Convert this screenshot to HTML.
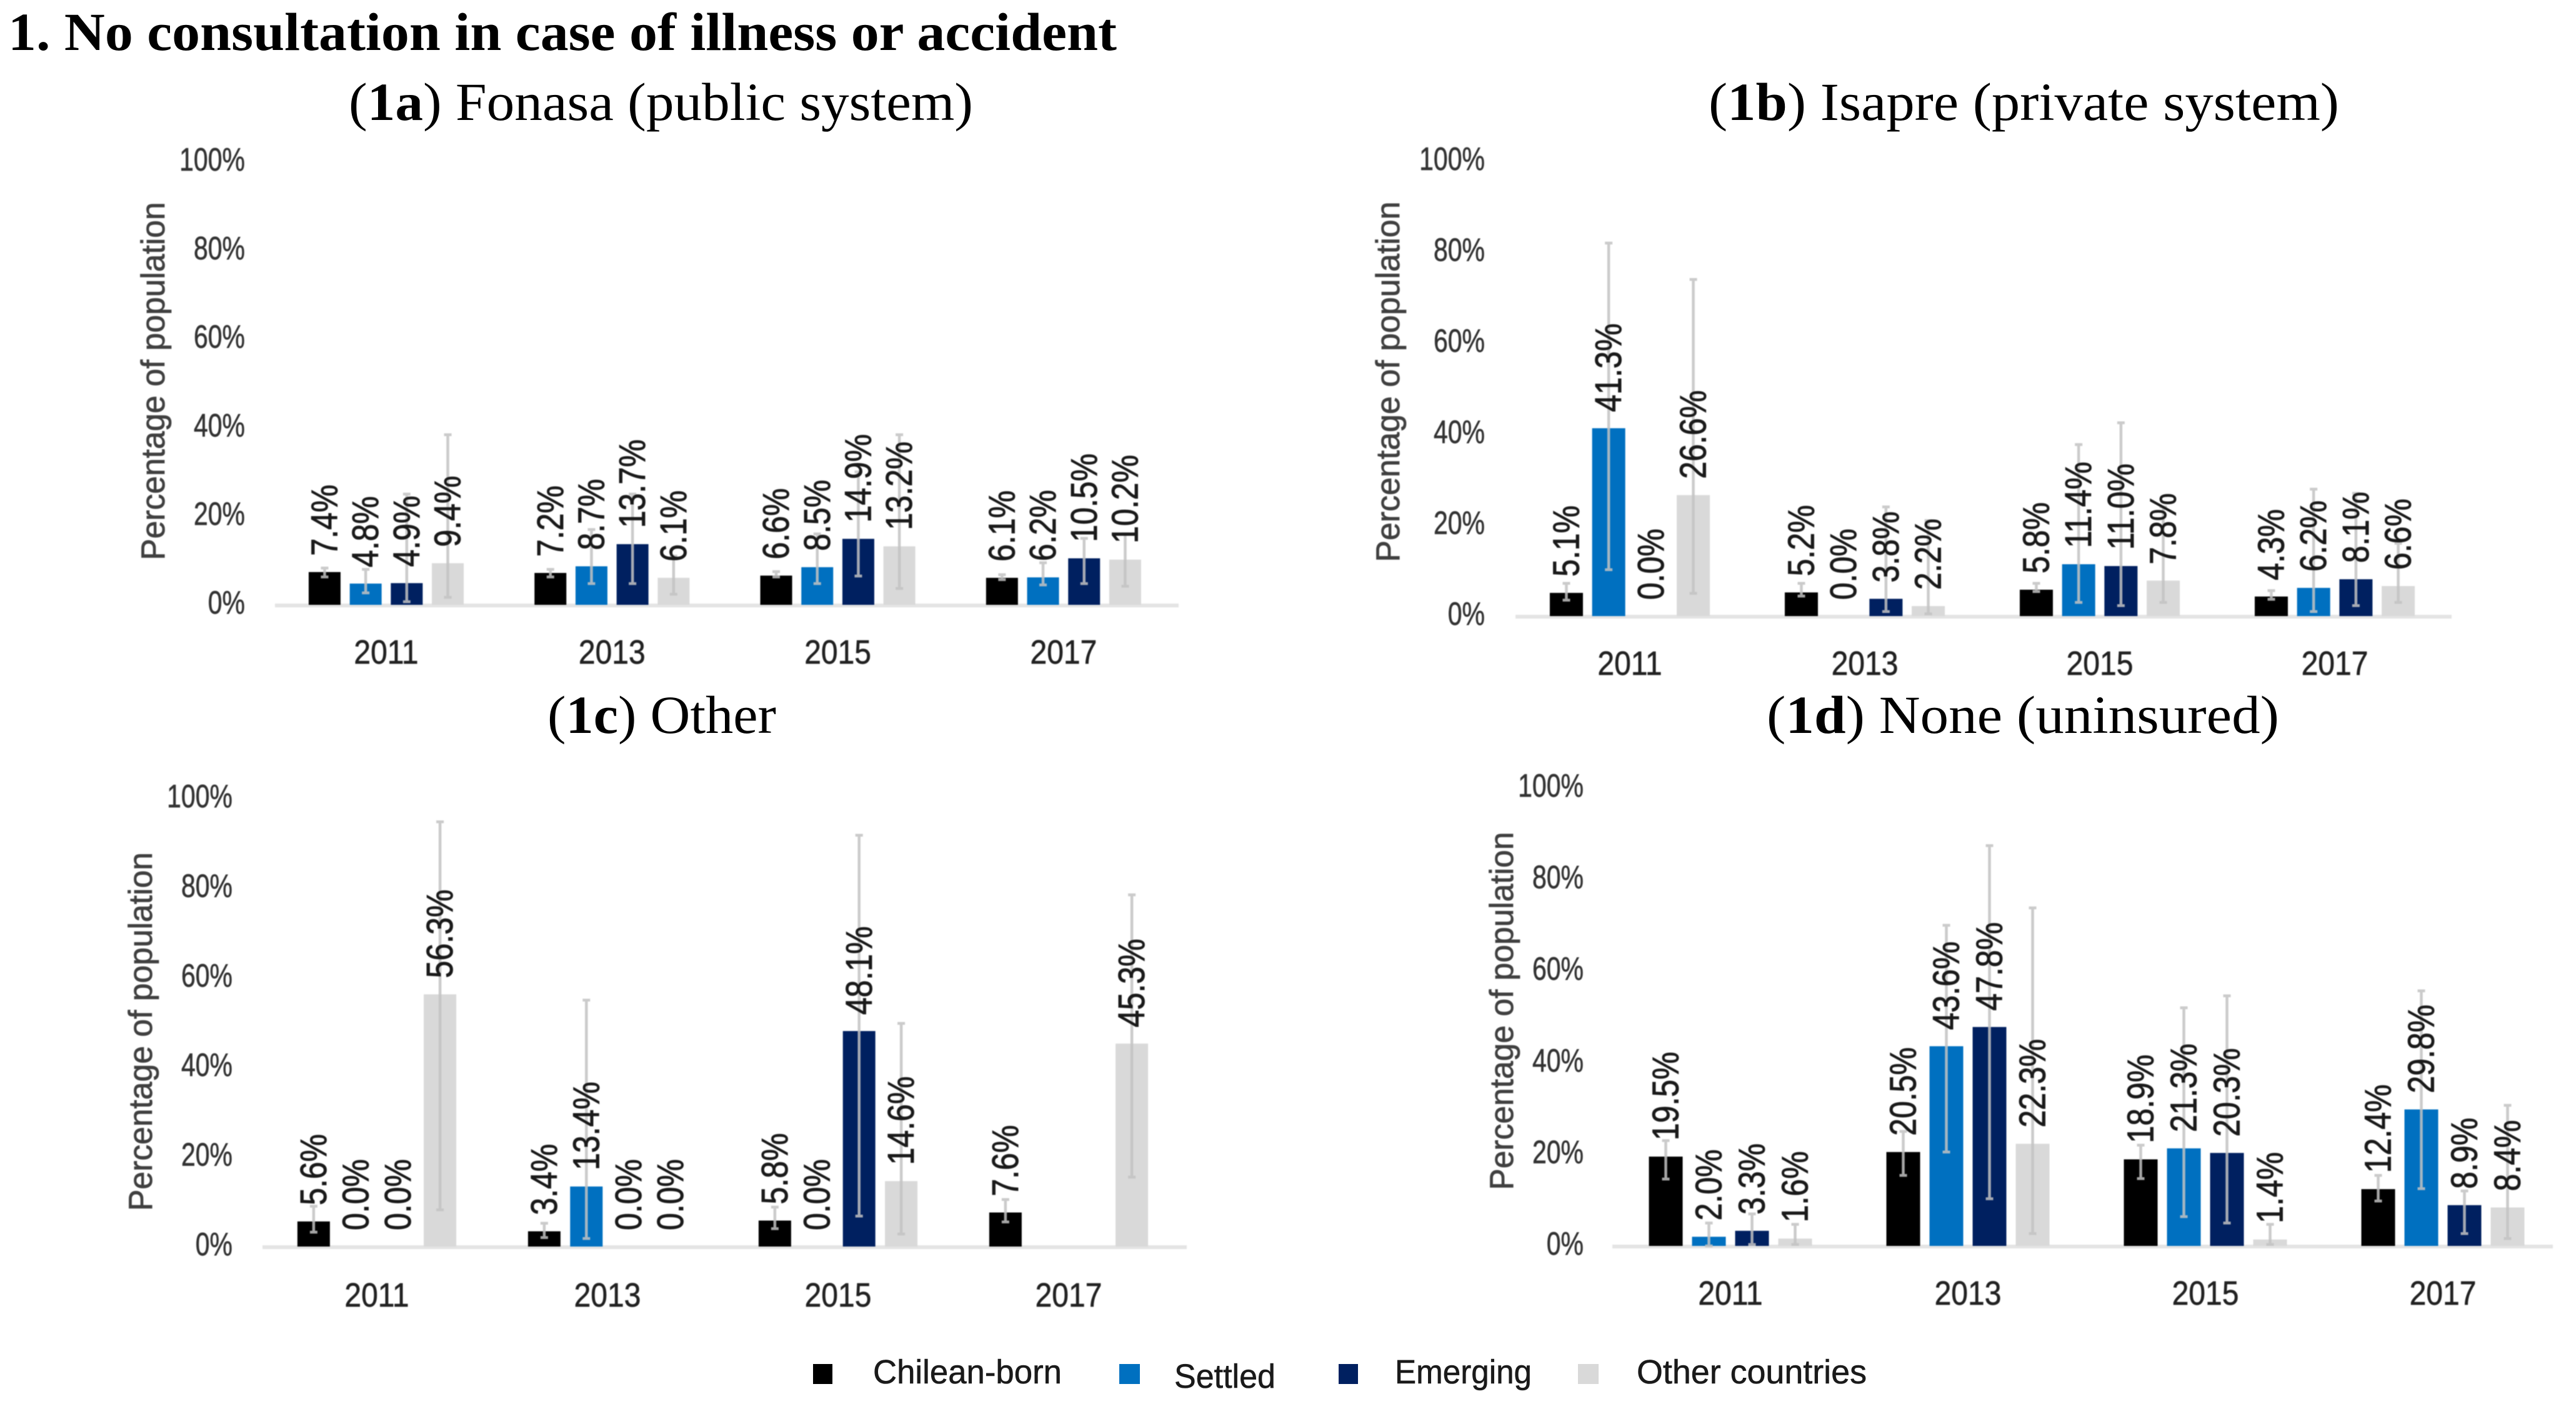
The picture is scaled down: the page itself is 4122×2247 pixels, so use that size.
<!DOCTYPE html>
<html lang="en">
<head>
<meta charset="utf-8">
<title>No consultation in case of illness or accident</title>
<style>
html,body{margin:0;padding:0;background:#fff;width:4122px;height:2247px;overflow:hidden}
svg{display:block}
.serif{font-family:"Liberation Serif",serif;fill:#000}
.sans{font-family:"Liberation Sans",sans-serif}
#charts{filter:blur(0.8px)}
</style>
</head>
<body>
<svg id="figure" xmlns="http://www.w3.org/2000/svg" width="4122" height="2247" viewBox="0 0 4122 2247">
  <rect x="0" y="0" width="4122" height="2247" fill="#ffffff"/>
  <text class="serif" x="13" y="80" font-size="86" font-weight="700" textLength="1774" lengthAdjust="spacingAndGlyphs">1. No consultation in case of illness or accident</text>
  <text class="serif" x="558" y="192" font-size="86" textLength="999" lengthAdjust="spacingAndGlyphs">(<tspan font-weight="700">1a</tspan>) Fonasa (public system)</text>
  <text class="serif" x="2734" y="192" font-size="86" textLength="1009" lengthAdjust="spacingAndGlyphs">(<tspan font-weight="700">1b</tspan>) Isapre (private system)</text>
  <text class="serif" x="876" y="1173" font-size="86" textLength="366" lengthAdjust="spacingAndGlyphs">(<tspan font-weight="700">1c</tspan>) Other</text>
  <text class="serif" x="2827" y="1173" font-size="86" textLength="820" lengthAdjust="spacingAndGlyphs">(<tspan font-weight="700">1d</tspan>) None (uninsured)</text>
  <g id="charts"></g>
  <g>
    <rect x="1301" y="2183" width="31" height="32" fill="#000000"/>
    <text class="sans" x="1397" y="2214" font-size="54" fill="#1a1a1a" stroke="#1a1a1a" stroke-width="0.6" textLength="302" lengthAdjust="spacingAndGlyphs">Chilean-born</text>
    <rect x="1791" y="2183" width="33" height="32" fill="#0070c0"/>
    <text class="sans" x="1879" y="2221" font-size="54" fill="#1a1a1a" stroke="#1a1a1a" stroke-width="0.6" textLength="162" lengthAdjust="spacingAndGlyphs">Settled</text>
    <rect x="2142" y="2183" width="31" height="32" fill="#002060"/>
    <text class="sans" x="2232" y="2214" font-size="54" fill="#1a1a1a" stroke="#1a1a1a" stroke-width="0.6" textLength="219" lengthAdjust="spacingAndGlyphs">Emerging</text>
    <rect x="2525" y="2183" width="33" height="32" fill="#d9d9d9"/>
    <text class="sans" x="2619" y="2214" font-size="54" fill="#1a1a1a" stroke="#1a1a1a" stroke-width="0.6" textLength="368" lengthAdjust="spacingAndGlyphs">Other countries</text>
  </g>
</svg>
<script>
const years = ['2011', '2013', '2015', '2017'];
const yTicks = [0, 20, 40, 60, 80, 100];
const seriesKeys = ['chilean-born', 'settled', 'emerging', 'other-countries'];

const fonasaChilean = [7.4, 7.2, 6.6, 6.1];
const fonasaSettled = [4.8, 8.7, 8.5, 6.2];
const fonasaEmerging = [4.9, 13.7, 14.9, 10.5];
const fonasaOther = [9.4, 6.1, 13.2, 10.2];
const fonasaChileanLow = [6.3, 6.3, 6.3, 5.7];
const fonasaSettledLow = [2.7, 4.8, 4.8, 4.5];
const fonasaEmergingLow = [0.7, 4.8, 6.5, 4.8];
const fonasaOtherLow = [1.7, 2.4, 3.7, 4.2];
const fonasaChileanHigh = [8.3, 8.0, 7.5, 6.8];
const fonasaSettledHigh = [8.0, 17, 16, 9.5];
const fonasaEmergingHigh = [25, 25, 30, 15];
const fonasaOtherHigh = [38.4, 11, 38.4, 16];

const isapreChilean = [5.1, 5.2, 5.8, 4.3];
const isapreSettled = [41.3, 0, 11.4, 6.2];
const isapreEmerging = [0, 3.8, 11.0, 8.1];
const isapreOther = [26.6, 2.2, 7.8, 6.6];
const isapreChileanLow = [3.5, 4.4, 5.4, 3.7];
const isapreSettledLow = [10.2, null, 3, 1];
const isapreEmergingLow = [null, 1, 2.3, 2.3];
const isapreOtherLow = [5, 0.5, 3, 3];
const isapreChileanHigh = [7.2, 7.2, 7.2, 5.6];
const isapreSettledHigh = [82, null, 37.7, 27.9];
const isapreEmergingHigh = [null, 24, 42.5, 27];
const isapreOtherHigh = [74, 21, 24, 16];

const otherChilean = [5.6, 3.4, 5.8, 7.6];
const otherSettled = [0, 13.4, 0, null];
const otherEmerging = [0, 0, 48.1, null];
const otherOther = [56.3, 0, 14.6, 45.3];
const otherChileanLow = [3.2, 2, 4, 5.5];
const otherSettledLow = [null, 1.8, null, null];
const otherEmergingLow = [null, null, 6.8, null];
const otherOtherLow = [8.2, null, 2.8, 15.5];
const otherChileanHigh = [9, 5.2, 8.8, 10.5];
const otherSettledHigh = [null, 55, null, null];
const otherEmergingHigh = [null, null, 91.8, null];
const otherOtherHigh = [94.8, null, 49.8, 78.5];

const noneChilean = [19.5, 20.5, 18.9, 12.4];
const noneSettled = [2.0, 43.6, 21.3, 29.8];
const noneEmerging = [3.3, 47.8, 20.3, 8.9];
const noneOther = [1.6, 22.3, 1.4, 8.4];
const noneChileanLow = [14.6, 15.4, 14.7, 9.8];
const noneSettledLow = [0, 20.5, 6.4, 12.5];
const noneEmergingLow = [0.3, 10.3, 5, 2.7];
const noneOtherLow = [0.3, 2.7, 0.3, 1.6];
const noneChileanHigh = [23, 25, 22, 15.4];
const noneSettledHigh = [5, 70, 52, 55.7];
const noneEmergingHigh = [7, 87.4, 54.6, 12];
const noneOtherHigh = [4.7, 73.8, 4.7, 30.7];

const SVG_NS = 'http://www.w3.org/2000/svg';
const seriesFill = { 'chilean-born': '#000000', 'settled': '#0070c0', 'emerging': '#002060', 'other-countries': '#d9d9d9' };
const root = document.getElementById('charts');

function make(parent, tag, attrs, content) {
  const el = document.createElementNS(SVG_NS, tag);
  for (const k in attrs) el.setAttribute(k, attrs[k]);
  if (content !== undefined) el.textContent = content;
  parent.appendChild(el);
  return el;
}

function drawPanel(key, values, lows, highs, L) {
  const yScale = v => L.y0 - (L.y0 - L.y100) * v / 100;
  const xGroup = i => L.cx0 + i * L.groupStep;
  const xBar = (i, s) => xGroup(i) + (s - 1.5) * L.barStep;

  const g = make(root, 'g', {});
  
  

  const title = make(g, 'text', {
    'class': 'sans', 'font-size': 53, 'fill': '#404040', 'stroke': '#404040', 'stroke-width': 0.8,
    'textLength': L.titleLen, 'lengthAdjust': 'spacingAndGlyphs',
    'text-anchor': 'middle', 'transform': 'translate(' + L.titleX + ',' + L.titleY + ') rotate(-90)'
  }, 'Percentage of population');
  
  

  yTicks.forEach(t => {
    const tick = make(g, 'text', {
      'class': 'sans', 'font-size': 41, 'fill': '#333333', 'stroke': '#333333', 'stroke-width': 0.5,
      'text-anchor': 'end', 'transform': 'translate(' + L.tickX + ',' + (yScale(t) + 14) + ') scale(1,1.27)'
    }, t + '%');
    
    
  });

  const axis = make(g, 'line', {
    'x1': L.axisX1, 'x2': L.axisX2, 'y1': L.y0 + 1, 'y2': L.y0 + 1, 'stroke': '#e4e4e4', 'stroke-width': 6
  });
  
  

  years.forEach((year, i) => {
    const cat = make(g, 'text', {
      'class': 'sans', 'font-size': 48, 'fill': '#222222', 'stroke': '#222222', 'stroke-width': 0.6, 'text-anchor': 'middle',
      'transform': 'translate(' + xGroup(i) + ',' + L.catY + ') scale(1,1.12)'
    }, year);
    
    

    seriesKeys.forEach((sKey, s) => {
      const v = values[s][i];
      if (v === null) return;
      const bx = xBar(i, s);
      const top = yScale(v);

      const bar = make(g, 'rect', {
        'x': bx - L.barW / 2, 'y': top, 'width': L.barW, 'height': L.y0 - top, 'fill': seriesFill[sKey]
      });
      
      

      const lo = lows[s][i];
      const hi = highs[s][i];
      if (lo !== null && hi !== null) {
        const err = make(g, 'path', {
          'd': 'M' + bx + ' ' + yScale(hi) + 'V' + yScale(lo) +
               'M' + (bx - 6) + ' ' + yScale(hi) + 'H' + (bx + 6) +
               'M' + (bx - 6) + ' ' + yScale(lo) + 'H' + (bx + 6),
          'fill': 'none', 'stroke': '#c2c2c2', 'stroke-width': 4.5, 'stroke-opacity': 0.85
        });
        
        
      }
    });
  });

  years.forEach((year, i) => {
    seriesKeys.forEach((sKey, s) => {
      const v = values[s][i];
      if (v === null) return;
      const label = make(g, 'text', {
        'class': 'sans', 'font-size': 50, 'fill': '#1a1a1a', 'stroke': '#1a1a1a', 'stroke-width': 0.8, 'x': 0, 'y': 17,
        'transform': 'translate(' + xBar(i, s) + ',' + (yScale(v) - 26) + ') rotate(-90) scale(1,1.18)'
      }, v.toFixed(1) + '%');
      
      
    });
  });
}

const layoutFonasa = { y0: 968, y100: 259, cx0: 618, groupStep: 361.3, barStep: 65.7, barW: 51, axisX1: 440, axisX2: 1886, tickX: 392, titleX: 263, titleY: 610, titleLen: 573, catY: 1062 };
const layoutIsapre = { y0: 986, y100: 258, cx0: 2608, groupStep: 376, barStep: 67.7, barW: 53, axisX1: 2425, axisX2: 3923, tickX: 2376, titleX: 2239, titleY: 611, titleLen: 577, catY: 1080 };
const layoutOther = { y0: 1995, y100: 1278, cx0: 603, groupStep: 369, barStep: 67.4, barW: 52, axisX1: 420, axisX2: 1899, tickX: 372, titleX: 243, titleY: 1651, titleLen: 574, catY: 2091 };
const layoutNone = { y0: 1994, y100: 1261, cx0: 2769, groupStep: 380, barStep: 69, barW: 54, axisX1: 2580, axisX2: 4085, tickX: 2534, titleX: 2421, titleY: 1618, titleLen: 573, catY: 2088 };

drawPanel('fonasa',
  [fonasaChilean, fonasaSettled, fonasaEmerging, fonasaOther],
  [fonasaChileanLow, fonasaSettledLow, fonasaEmergingLow, fonasaOtherLow],
  [fonasaChileanHigh, fonasaSettledHigh, fonasaEmergingHigh, fonasaOtherHigh],
  layoutFonasa);
drawPanel('isapre',
  [isapreChilean, isapreSettled, isapreEmerging, isapreOther],
  [isapreChileanLow, isapreSettledLow, isapreEmergingLow, isapreOtherLow],
  [isapreChileanHigh, isapreSettledHigh, isapreEmergingHigh, isapreOtherHigh],
  layoutIsapre);
drawPanel('other',
  [otherChilean, otherSettled, otherEmerging, otherOther],
  [otherChileanLow, otherSettledLow, otherEmergingLow, otherOtherLow],
  [otherChileanHigh, otherSettledHigh, otherEmergingHigh, otherOtherHigh],
  layoutOther);
drawPanel('none',
  [noneChilean, noneSettled, noneEmerging, noneOther],
  [noneChileanLow, noneSettledLow, noneEmergingLow, noneOtherLow],
  [noneChileanHigh, noneSettledHigh, noneEmergingHigh, noneOtherHigh],
  layoutNone);
</script>
</body>
</html>
